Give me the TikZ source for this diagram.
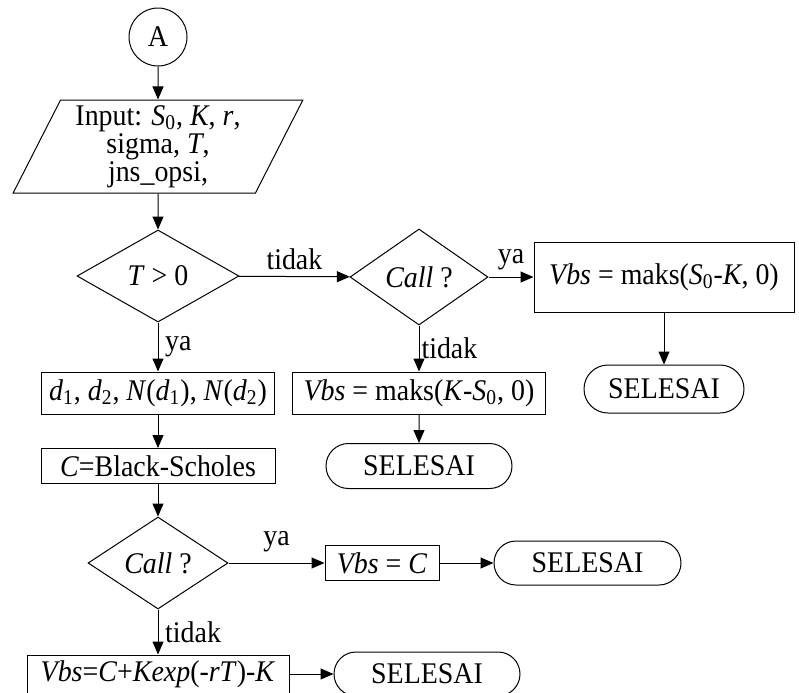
\documentclass[tikz,border=0pt]{standalone}
\usepackage{fontspec}
\setmainfont{Liberation Serif}[FakeStretch=0.93]
\usetikzlibrary{arrows.meta}
\usetikzlibrary{shapes.geometric}
\usetikzlibrary{shapes.misc}
\tikzset{>={Triangle[length=6.5pt,width=5.5pt]}}
\tikzset{
  box/.style={draw, rectangle, inner sep=0pt},
  cond/.style={draw, diamond, inner sep=0pt},
  io/.style={draw, trapezium, trapezium left angle=64, trapezium right angle=116,
    trapezium stretches=true, inner sep=0pt, align=center},
  ends/.style={draw, rounded rectangle, inner sep=0pt},
}
\newcommand{\isub}[2]{\textit{#1}\textsubscript{#2}}

\begin{document}
\begin{tikzpicture}[x=0.5pt, y=-0.5pt, line width=0.5pt,
    font=\fontsize{15}{14}\selectfont]
        \useasboundingbox (0,0) rectangle (799,692);
        \clip (0,0) rectangle (799,692);
        % nodes
        \node[draw, circle, minimum size=29pt, inner sep=0pt] (A) at (158,37) {A};
        \node[io, minimum width=145pt, minimum height=46.5pt] (input) at (158,146.5)
          {Input: \isub{S}{0}, \textit{K}, \textit{r},\\ sigma, \textit{T},\\ jns\_opsi,};
        \node[cond, minimum width=81pt, minimum height=46pt] (tpos) at (158,276) {\textit{T} > 0};
        \node[cond, minimum width=69pt, minimum height=48pt] (call1) at (419,277) {\textit{Call} ?};
        \node[box, minimum width=130pt, minimum height=35pt] (vcall) at (664,277)
          {\textit{Vbs} = maks(\isub{S}{0}-\textit{K}, 0)};
        \node[ends, minimum width=80pt, minimum height=24pt] (end1) at (664,389) {SELESAI};
        \node[box, minimum width=126.5pt, minimum height=21pt] (vput) at (419,393)
          {\textit{Vbs} = maks(\textit{K}-\isub{S}{0}, 0)};
        \node[ends, minimum width=93pt, minimum height=22.5pt] (end2) at (419,466) {SELESAI};
        \node[box, minimum width=116.5pt, minimum height=21pt] (dnd) at (158,393)
          {\isub{d}{1}, \isub{d}{2}, \textit{N}(\isub{d}{1}), \textit{N}(\isub{d}{2})};
        \node[box, minimum width=117pt, minimum height=17.5pt] (bs) at (158,466)
          {\textit{C}=Black-Scholes};
        \node[cond, minimum width=70pt, minimum height=46pt] (call2) at (158,563) {\textit{Call} ?};
        \node[box, minimum width=57pt, minimum height=17.5pt] (vbsc) at (382,563)
          {\textit{Vbs} = \textit{C}};
        \node[ends, minimum width=93.5pt, minimum height=22pt] (end3) at (587.5,563) {SELESAI};
        \node[box, minimum width=131pt, minimum height=19pt] (vbsp) at (158,674)
          {\textit{Vbs}=\textit{C}+\textit{Kexp}(-\textit{rT})-\textit{K}};
        \node[ends, minimum width=93pt, minimum height=22pt] (end4) at (427,674) {SELESAI};
        % lines
        \draw[->] (A) -- (input);
        \draw[->] (input) -- (tpos);
        \draw[->] (tpos) -- node[above] {tidak} (call1);
        \draw[->] (call1) -- node[above] {ya} (vcall);
        \draw[->] (vcall) -- (end1);
        \draw[->] (call1) -- node[right, inner sep=1pt] {tidak} (vput);
        \draw[->] (vput) -- (end2);
        \draw[->] (tpos) -- node[right] {ya} (dnd);
        \draw[->] (dnd) -- (bs);
        \draw[->] (bs) -- (call2);
        \draw[->] (call2) -- node[above, yshift=2pt] {ya} (vbsc);
        \draw[->] (vbsc) -- (end3);
        \draw[->] (call2) -- node[right] {tidak} (vbsp);
        \draw[->] (vbsp) -- (end4);
      \end{tikzpicture}
\end{document}
